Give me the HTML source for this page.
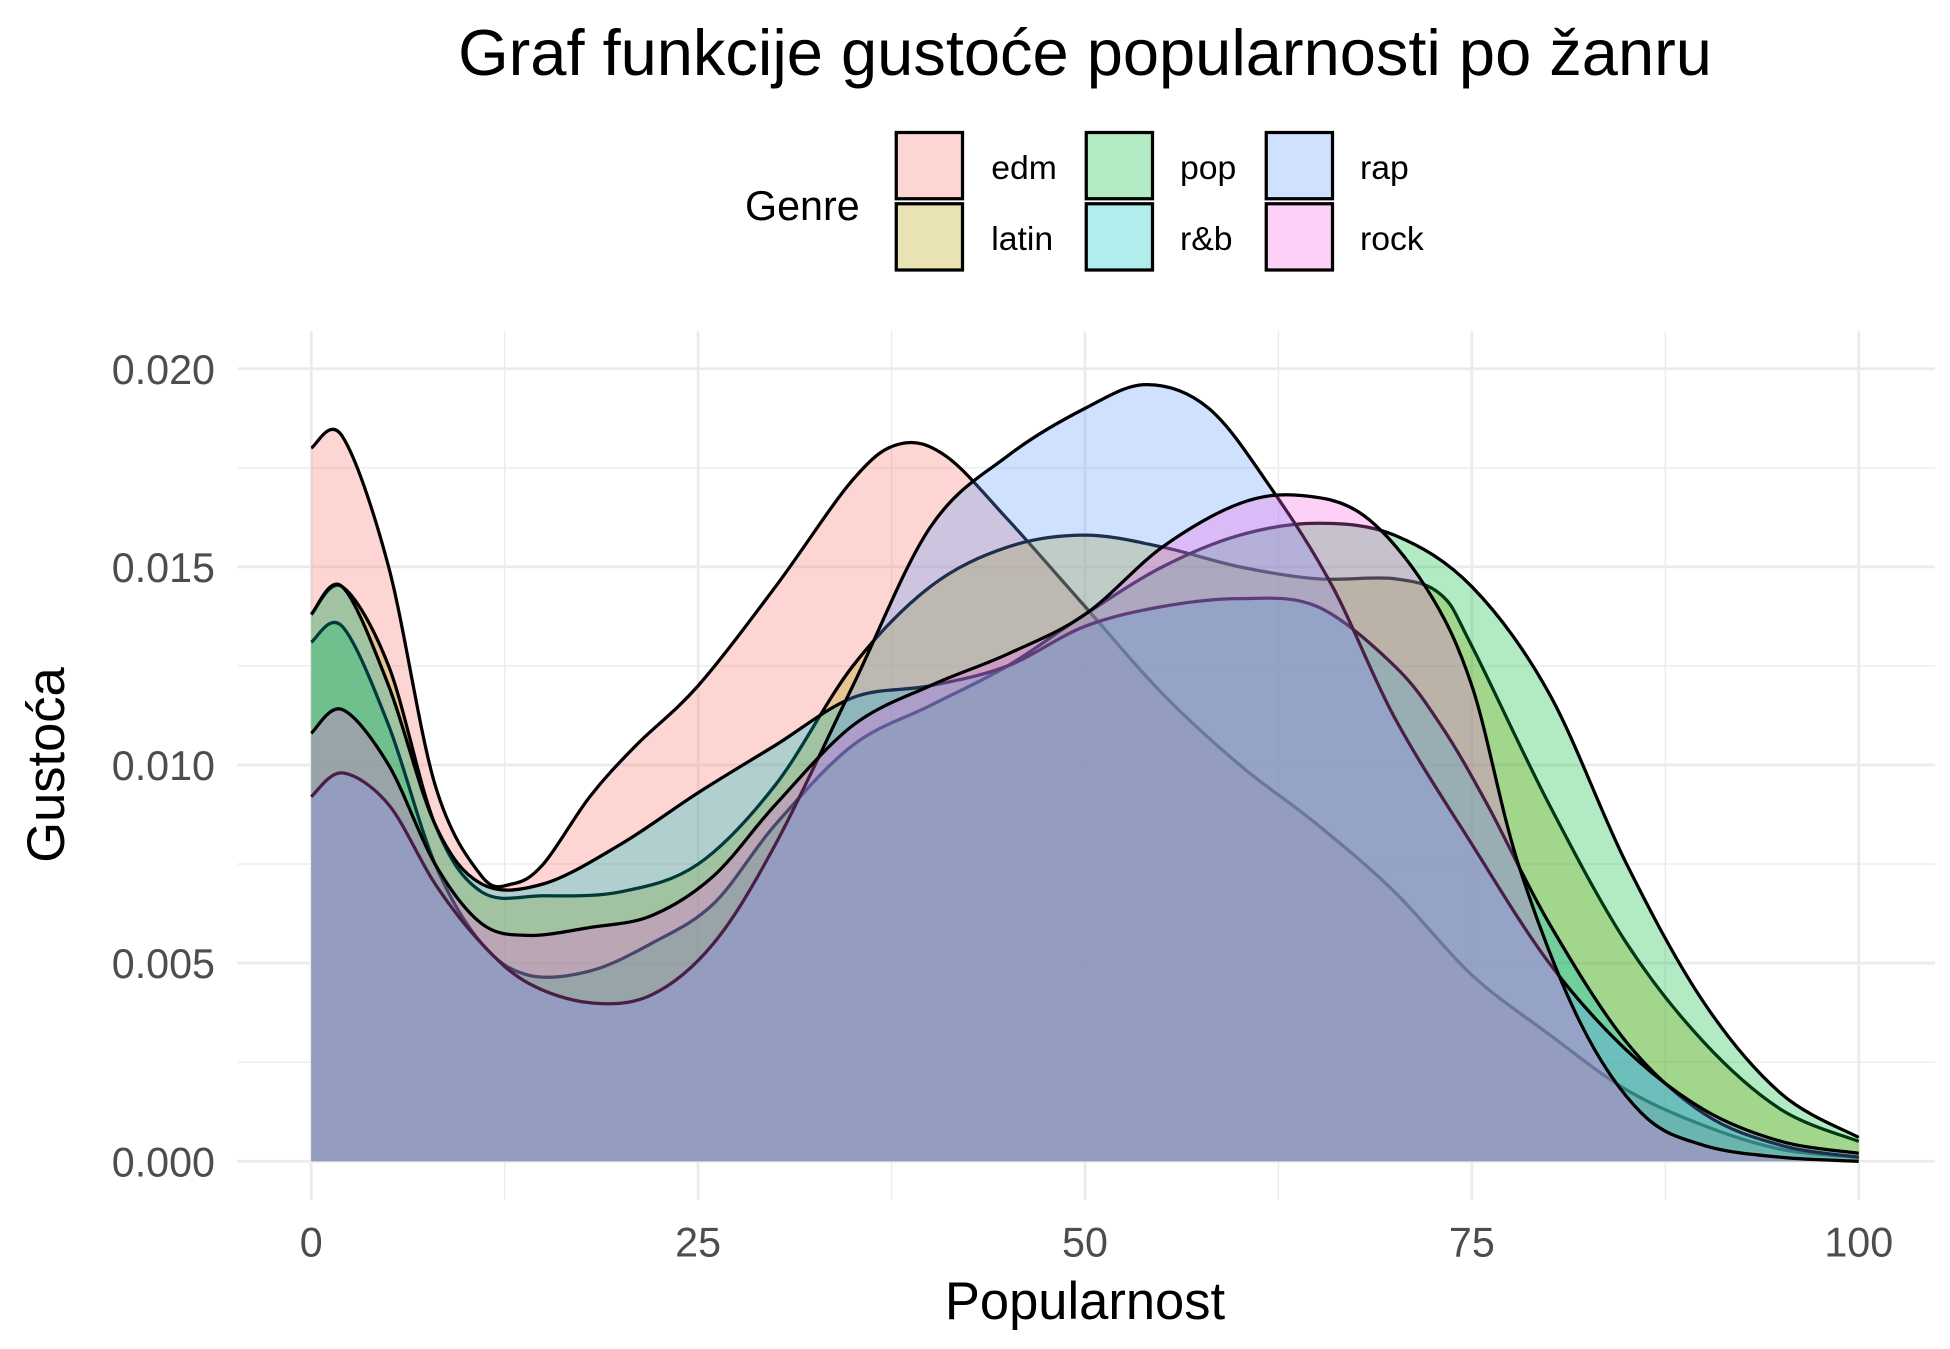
<!DOCTYPE html>
<html><head><meta charset="utf-8"><style>
html,body{margin:0;padding:0;background:#fff}
svg{display:block}
text{font-family:"Liberation Sans",Arial,sans-serif}
</style></head><body>
<svg id="chart" width="1950" height="1349" viewBox="0 0 1560 1079.2" xmlns="http://www.w3.org/2000/svg">
<g id="grid"></g>
<g id="areas"></g>
<g id="axes"></g>
<text x="868" y="60" font-size="52" text-anchor="middle" fill="#000">Graf funkcije gustoće popularnosti po žanru</text>
<text x="868" y="1055" font-size="42" text-anchor="middle" fill="#000">Popularnost</text>
<text transform="translate(51,612) rotate(-90)" font-size="42" text-anchor="middle" fill="#000">Gustoća</text>
<g id="legend">
<text x="596" y="176" font-size="33" fill="#000">Genre</text>
</g>
</svg>
<script>
const genres=["edm","latin","pop","r&b","rap","rock"];
const colors=["#F8766D","#B79F00","#00BA38","#00BFC4","#619CFF","#F564E3"];
const xTicks=[0,25,50,75,100];
const yTicks=[0,0.005,0.01,0.015,0.02];
const yTickLabels=["0.000","0.005","0.010","0.015","0.020"];
const edmX=[0,2,5,8,11,13,15,18,21,25,30,35,38,41,45,50,55,60,65,70,75,80,85,90,95,100];
const edmY=[0.0180,0.0183,0.0150,0.0095,0.0072,0.0070,0.0075,0.0092,0.0105,0.0120,0.0145,0.0172,0.0181,0.0178,0.0162,0.0140,0.0118,0.0100,0.0085,0.0068,0.0047,0.0032,0.0018,0.0009,0.0003,0.0001];
const latinX=[0,2,5,8,11,15,20,25,30,35,40,45,50,55,60,65,70,73,75,80,85,90,95,100];
const latinY=[0.0138,0.0145,0.0125,0.0085,0.0068,0.0067,0.0068,0.0075,0.0095,0.0125,0.0145,0.0155,0.0158,0.0155,0.0150,0.0147,0.0147,0.0143,0.0130,0.0090,0.0055,0.0030,0.0013,0.0005];
const popX=[0,2,5,8,11,14,18,22,26,30,35,40,45,50,55,60,65,70,75,80,85,90,95,100];
const popY=[0.0131,0.0135,0.0110,0.0075,0.0055,0.0047,0.0048,0.0055,0.0065,0.0085,0.0105,0.0115,0.0125,0.0138,0.0150,0.0158,0.0161,0.0158,0.0145,0.0118,0.0075,0.0040,0.0017,0.0006];
const rnbX=[0,2,5,8,11,15,20,25,30,35,40,45,50,55,60,65,70,73,76,80,85,90,95,100];
const rnbY=[0.0138,0.0145,0.0120,0.0085,0.0070,0.0070,0.0080,0.0093,0.0105,0.0117,0.0120,0.0125,0.0135,0.0140,0.0142,0.0140,0.0125,0.0110,0.0090,0.0060,0.0030,0.0012,0.0004,0.0001];
const rapX=[0,2,5,8,11,14,18,22,26,30,35,40,45,50,54,58,62,66,70,75,80,85,90,95,100];
const rapY=[0.0092,0.0098,0.0090,0.0070,0.0055,0.0045,0.0040,0.0042,0.0055,0.0080,0.0120,0.0160,0.0178,0.0190,0.0196,0.0190,0.0170,0.0145,0.0112,0.0080,0.0050,0.0028,0.0013,0.0005,0.0002];
const rockX=[0,2,5,8,11,14,18,22,26,30,35,40,45,50,55,60,64,68,72,75,78,82,86,90,95,100];
const rockY=[0.0108,0.0114,0.0100,0.0075,0.0060,0.0057,0.0059,0.0062,0.0072,0.0090,0.0110,0.0120,0.0128,0.0138,0.0155,0.0166,0.0168,0.0163,0.0145,0.0120,0.0075,0.0035,0.0012,0.0004,0.0001,0.0000];
const seriesX=[edmX,latinX,popX,rnbX,rapX,rockX];
const seriesY=[edmY,latinY,popY,rnbY,rapY,rockY];

const NS="http://www.w3.org/2000/svg";
const X0=249,X1=1487,Y0=929,Y1=295;
const sx=v=>X0+(X1-X0)*v/100;
const sy=v=>Y0-(Y0-Y1)*v/0.02;
function mk(tag,parent,attrs){const e=document.createElementNS(NS,tag);for(const k in attrs)e.setAttribute(k,attrs[k]);parent.appendChild(e);return e;}
const grid=document.getElementById('grid');
const PL=190,PR=1548,PT=265,PB=960;
for(let i=0;i<xTicks.length;i++){
  const g=mk('line',grid,{x1:sx(xTicks[i]),x2:sx(xTicks[i]),y1:PT,y2:PB,stroke:'#ebebeb','stroke-width':2.2});
  
  
  if(i<xTicks.length-1){const m=(xTicks[i]+xTicks[i+1])/2;
    const g2=mk('line',grid,{x1:sx(m),x2:sx(m),y1:PT,y2:PB,stroke:'#ebebeb','stroke-width':1.1});
    
    }
}
for(let i=0;i<yTicks.length;i++){
  const g=mk('line',grid,{x1:PL,x2:PR,y1:sy(yTicks[i]),y2:sy(yTicks[i]),stroke:'#ebebeb','stroke-width':2.2});
  
  
  if(i<yTicks.length-1){const m=(yTicks[i]+yTicks[i+1])/2;
    const g2=mk('line',grid,{x1:PL,x2:PR,y1:sy(m),y2:sy(m),stroke:'#ebebeb','stroke-width':1.1});
    
    }
}
function smooth(xs,ys){
  const p=xs.map((x,i)=>[sx(x),sy(ys[i])]);
  let d='M'+p[0][0]+','+p[0][1];
  for(let i=0;i<p.length-1;i++){
    const p0=p[Math.max(0,i-1)],p1=p[i],p2=p[i+1],p3=p[Math.min(p.length-1,i+2)];
    const c1=[p1[0]+(p2[0]-p0[0])/6,p1[1]+(p2[1]-p0[1])/6];
    const c2=[p2[0]-(p3[0]-p1[0])/6,p2[1]-(p3[1]-p1[1])/6];
    d+=' C'+c1[0]+','+c1[1]+' '+c2[0]+','+c2[1]+' '+p2[0]+','+p2[1];
  }
  return d;
}
const areas=document.getElementById('areas');
for(let s=0;s<genres.length;s++){
  const xs=seriesX[s],ys=seriesY[s];
  const line=smooth(xs,ys);
  const a=mk('path',areas,{d:line+' L'+sx(xs[xs.length-1])+','+sy(0)+' L'+sx(xs[0])+','+sy(0)+' Z',fill:colors[s],'fill-opacity':0.3,stroke:'none'});
  
  
  const l=mk('path',areas,{d:line,fill:'none',stroke:'#000','stroke-width':2.6});
  
  
}
const axes=document.getElementById('axes');
xTicks.forEach(v=>{const t=mk('text',axes,{x:sx(v),y:1005,'font-size':33,'text-anchor':'middle',fill:'#4d4d4d'});t.textContent=v;
  
  });
yTicks.forEach((v,i)=>{const t=mk('text',axes,{x:172,y:sy(v)+12,'font-size':33,'text-anchor':'end',fill:'#4d4d4d'});t.textContent=yTickLabels[i];
  
  });
const legend=document.getElementById('legend');
const kx=[717,869,1013],ky=[106,163],lx=[793,944,1088];
for(let s=0;s<genres.length;s++){
  const c=Math.floor(s/2),r=s%2;
  const b=mk('rect',legend,{x:kx[c],y:ky[r],width:53,height:53,fill:colors[s],'fill-opacity':0.3,stroke:'#000','stroke-width':2.6});
  
  
  const t=mk('text',legend,{x:lx[c],y:ky[r]+37,'font-size':27,fill:'#000'});t.textContent=genres[s];
  
  
}
</script>
</body></html>
